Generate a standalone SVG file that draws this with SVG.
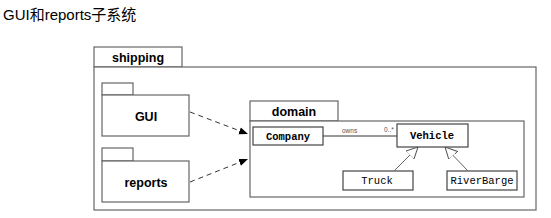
<svg xmlns="http://www.w3.org/2000/svg" width="551" height="218" viewBox="0 0 551 218">
<style>
.title{font-family:"Liberation Sans","Noto Sans CJK SC",sans-serif;font-size:15px;fill:#000}
.pkg{fill:#fff;stroke:#666;stroke-width:1.2}
.pkgl{font-family:"Liberation Sans",Arial,sans-serif;font-weight:bold;font-size:12.5px;fill:#000;text-anchor:middle}
.cls{fill:#fff;stroke:#444;stroke-width:1.2}
.clsl{font-family:"Liberation Mono",monospace;font-size:10.5px;fill:#000;text-anchor:middle}
.small{font-family:"Liberation Sans",Arial,sans-serif;font-size:6.5px;fill:#555}
.dep{stroke:#333;stroke-width:1;stroke-dasharray:5,4;fill:none}
.gen{stroke:#666;stroke-width:1;fill:none}
</style>
<defs>
<marker id="filled" viewBox="0 0 10 10" refX="10" refY="5" markerWidth="9" markerHeight="9" markerUnits="userSpaceOnUse" orient="auto">
<path d="M0,1 L10,5 L0,9 z" fill="#000"/>
</marker>
<marker id="hollow" viewBox="0 0 12 12" refX="12" refY="6" markerWidth="12" markerHeight="12" markerUnits="userSpaceOnUse" orient="auto">
<path d="M0,0 L12,6 L0,12 z" fill="#fff" stroke="#555" stroke-width="1"/>
</marker>
</defs>
<rect width="551" height="218" fill="#fff"/>
<text class="title" x="3" y="20">GUI和reports子系统</text>

<g id="shipping">
<rect class="pkg" x="94" y="47" width="88" height="20" stroke="#888"/>
<rect class="pkg" x="94" y="67" width="442" height="143" stroke="#888"/>
<text class="pkgl" x="138" y="62">shipping</text>
</g>

<g id="GUI">
<rect class="pkg" x="102" y="83" width="31" height="12"/>
<rect class="pkg" x="102" y="95" width="87" height="41"/>
<text class="pkgl" x="146" y="121">GUI</text>
</g>

<g id="reports">
<rect class="pkg" x="102" y="148" width="31" height="13"/>
<rect class="pkg" x="102" y="161" width="87" height="41"/>
<text class="pkgl" x="146" y="187">reports</text>
</g>

<g id="domain">
<rect class="pkg" x="250" y="101" width="88" height="20" stroke="#333"/>
<rect class="pkg" x="250" y="121" width="274" height="76" stroke="#333"/>
<text class="pkgl" x="294" y="116">domain</text>
</g>

<g id="Company">
<rect class="cls" x="253" y="127" width="70" height="18"/>
<text class="clsl" x="288" y="140" font-weight="bold">Company</text>
</g>

<g id="Vehicle">
<rect class="cls" x="397" y="124" width="71" height="23"/>
<text class="clsl" x="432" y="139" font-weight="bold">Vehicle</text>
</g>

<g id="Truck">
<rect class="cls" x="343" y="171" width="70" height="19"/>
<text class="clsl" x="377" y="184">Truck</text>
</g>

<g id="RiverBarge">
<rect class="cls" x="447" y="171" width="70" height="19"/>
<text class="clsl" x="482" y="184">RiverBarge</text>
</g>

<g id="connectors">
<path class="dep" d="M190,112 L248,134" marker-end="url(#filled)"/>
<path class="dep" d="M190,182 L248,159" marker-end="url(#filled)"/>
<path d="M323,136 L397,136" stroke="#333" stroke-width="1" fill="none"/>
<text class="small" x="342" y="133">owns</text>
<text class="small" x="384" y="132">0..*</text>
<path class="gen" d="M394,171 L418,147" marker-end="url(#hollow)"/>
<path class="gen" d="M468,171 L445,147" marker-end="url(#hollow)"/>
</g>
</svg>
